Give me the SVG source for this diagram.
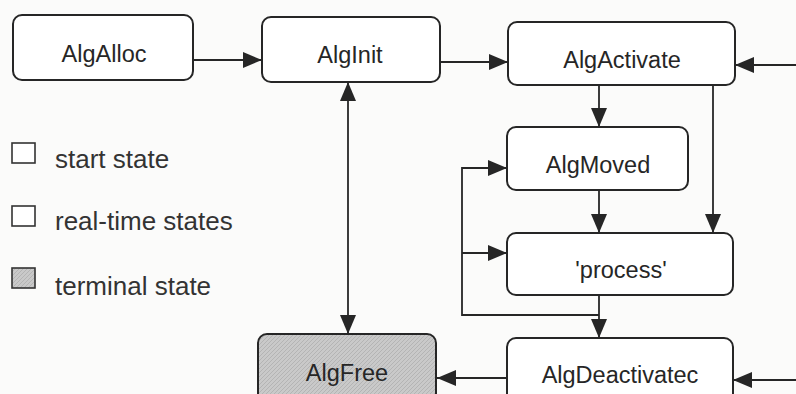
<svg xmlns="http://www.w3.org/2000/svg" width="796" height="394" viewBox="0 0 796 394">
<defs>
<style>
.node rect{fill:#ffffff;stroke:#262626;stroke-width:2}
.node.term rect{fill:url(#hatch)}
.node text{font-family:"Liberation Sans",Arial,sans-serif;font-size:23.5px;fill:#262626;text-anchor:middle}
.legend text{font-family:"Liberation Sans",Arial,sans-serif;font-size:26px;fill:#333333}
.legend rect{fill:#ffffff;stroke:#333333;stroke-width:1.6}
.legend rect.term{fill:url(#hatch)}
#connectors path{fill:none;stroke:#262626;stroke-width:1.8}
</style>
<pattern id="hatch" patternUnits="userSpaceOnUse" width="4" height="4">
<rect width="4" height="4" fill="#c9c9c9"/>
<path d="M0 4L4 0" stroke="#b4b4b4" stroke-width="1"/>
</pattern>
<marker id="arr" markerUnits="userSpaceOnUse" markerWidth="19" markerHeight="16" refX="19" refY="8" orient="auto">
<path d="M0 0L19 8L0 16Z" fill="#262626"/>
</marker>
<marker id="arrs" markerUnits="userSpaceOnUse" markerWidth="19" markerHeight="16" refX="19" refY="8" orient="auto-start-reverse">
<path d="M0 0L19 8L0 16Z" fill="#262626"/>
</marker>
</defs>
<rect width="796" height="394" fill="#fbfbfa"/>

<g id="connectors">
<path d="M193 60H262" marker-end="url(#arr)"/>
<path d="M440 62H508" marker-end="url(#arr)"/>
<path d="M796 65H735" marker-end="url(#arr)"/>
<path d="M599 85V127" marker-end="url(#arr)"/>
<path d="M713 85V233" marker-end="url(#arr)"/>
<path d="M599 190V233" marker-end="url(#arr)"/>
<path d="M599 295V338" marker-end="url(#arr)"/>
<path d="M599 315H462V168H507" marker-end="url(#arr)"/>
<path d="M462 253H507" marker-end="url(#arr)"/>
<path d="M507 378H437" marker-end="url(#arr)"/>
<path d="M796 380H733" marker-end="url(#arr)"/>
<path d="M348 82V334" marker-start="url(#arrs)" marker-end="url(#arrs)"/>
</g>

<g id="AlgAlloc" class="node"><rect x="13" y="15" width="180" height="65" rx="9"/><text x="104" y="62">AlgAlloc</text></g>
<g id="AlgInit" class="node"><rect x="262" y="17" width="178" height="65" rx="9"/><text x="350" y="63">AlgInit</text></g>
<g id="AlgActivate" class="node"><rect x="508" y="22" width="227" height="63" rx="9"/><text x="622" y="68">AlgActivate</text></g>
<g id="AlgMoved" class="node"><rect x="507" y="127" width="181" height="63" rx="9"/><text x="598" y="173">AlgMoved</text></g>
<g id="process" class="node"><rect x="507" y="233" width="226" height="62" rx="9"/><text x="621" y="278">'process'</text></g>
<g id="AlgDeactivatec" class="node"><rect x="507" y="338" width="226" height="70" rx="9"/><text x="620" y="383">AlgDeactivatec</text></g>
<g id="AlgFree" class="node term"><rect x="258" y="334" width="178" height="70" rx="9"/><text x="347" y="381">AlgFree</text></g>

<g id="legend" class="legend">
<rect x="12" y="143" width="23" height="20"/>
<text x="55" y="168">start state</text>
<rect x="12" y="206" width="23" height="20"/>
<text x="55" y="230">real-time states</text>
<rect class="term" x="12" y="268" width="23" height="20"/>
<text x="55" y="295">terminal state</text>
</g>
</svg>
